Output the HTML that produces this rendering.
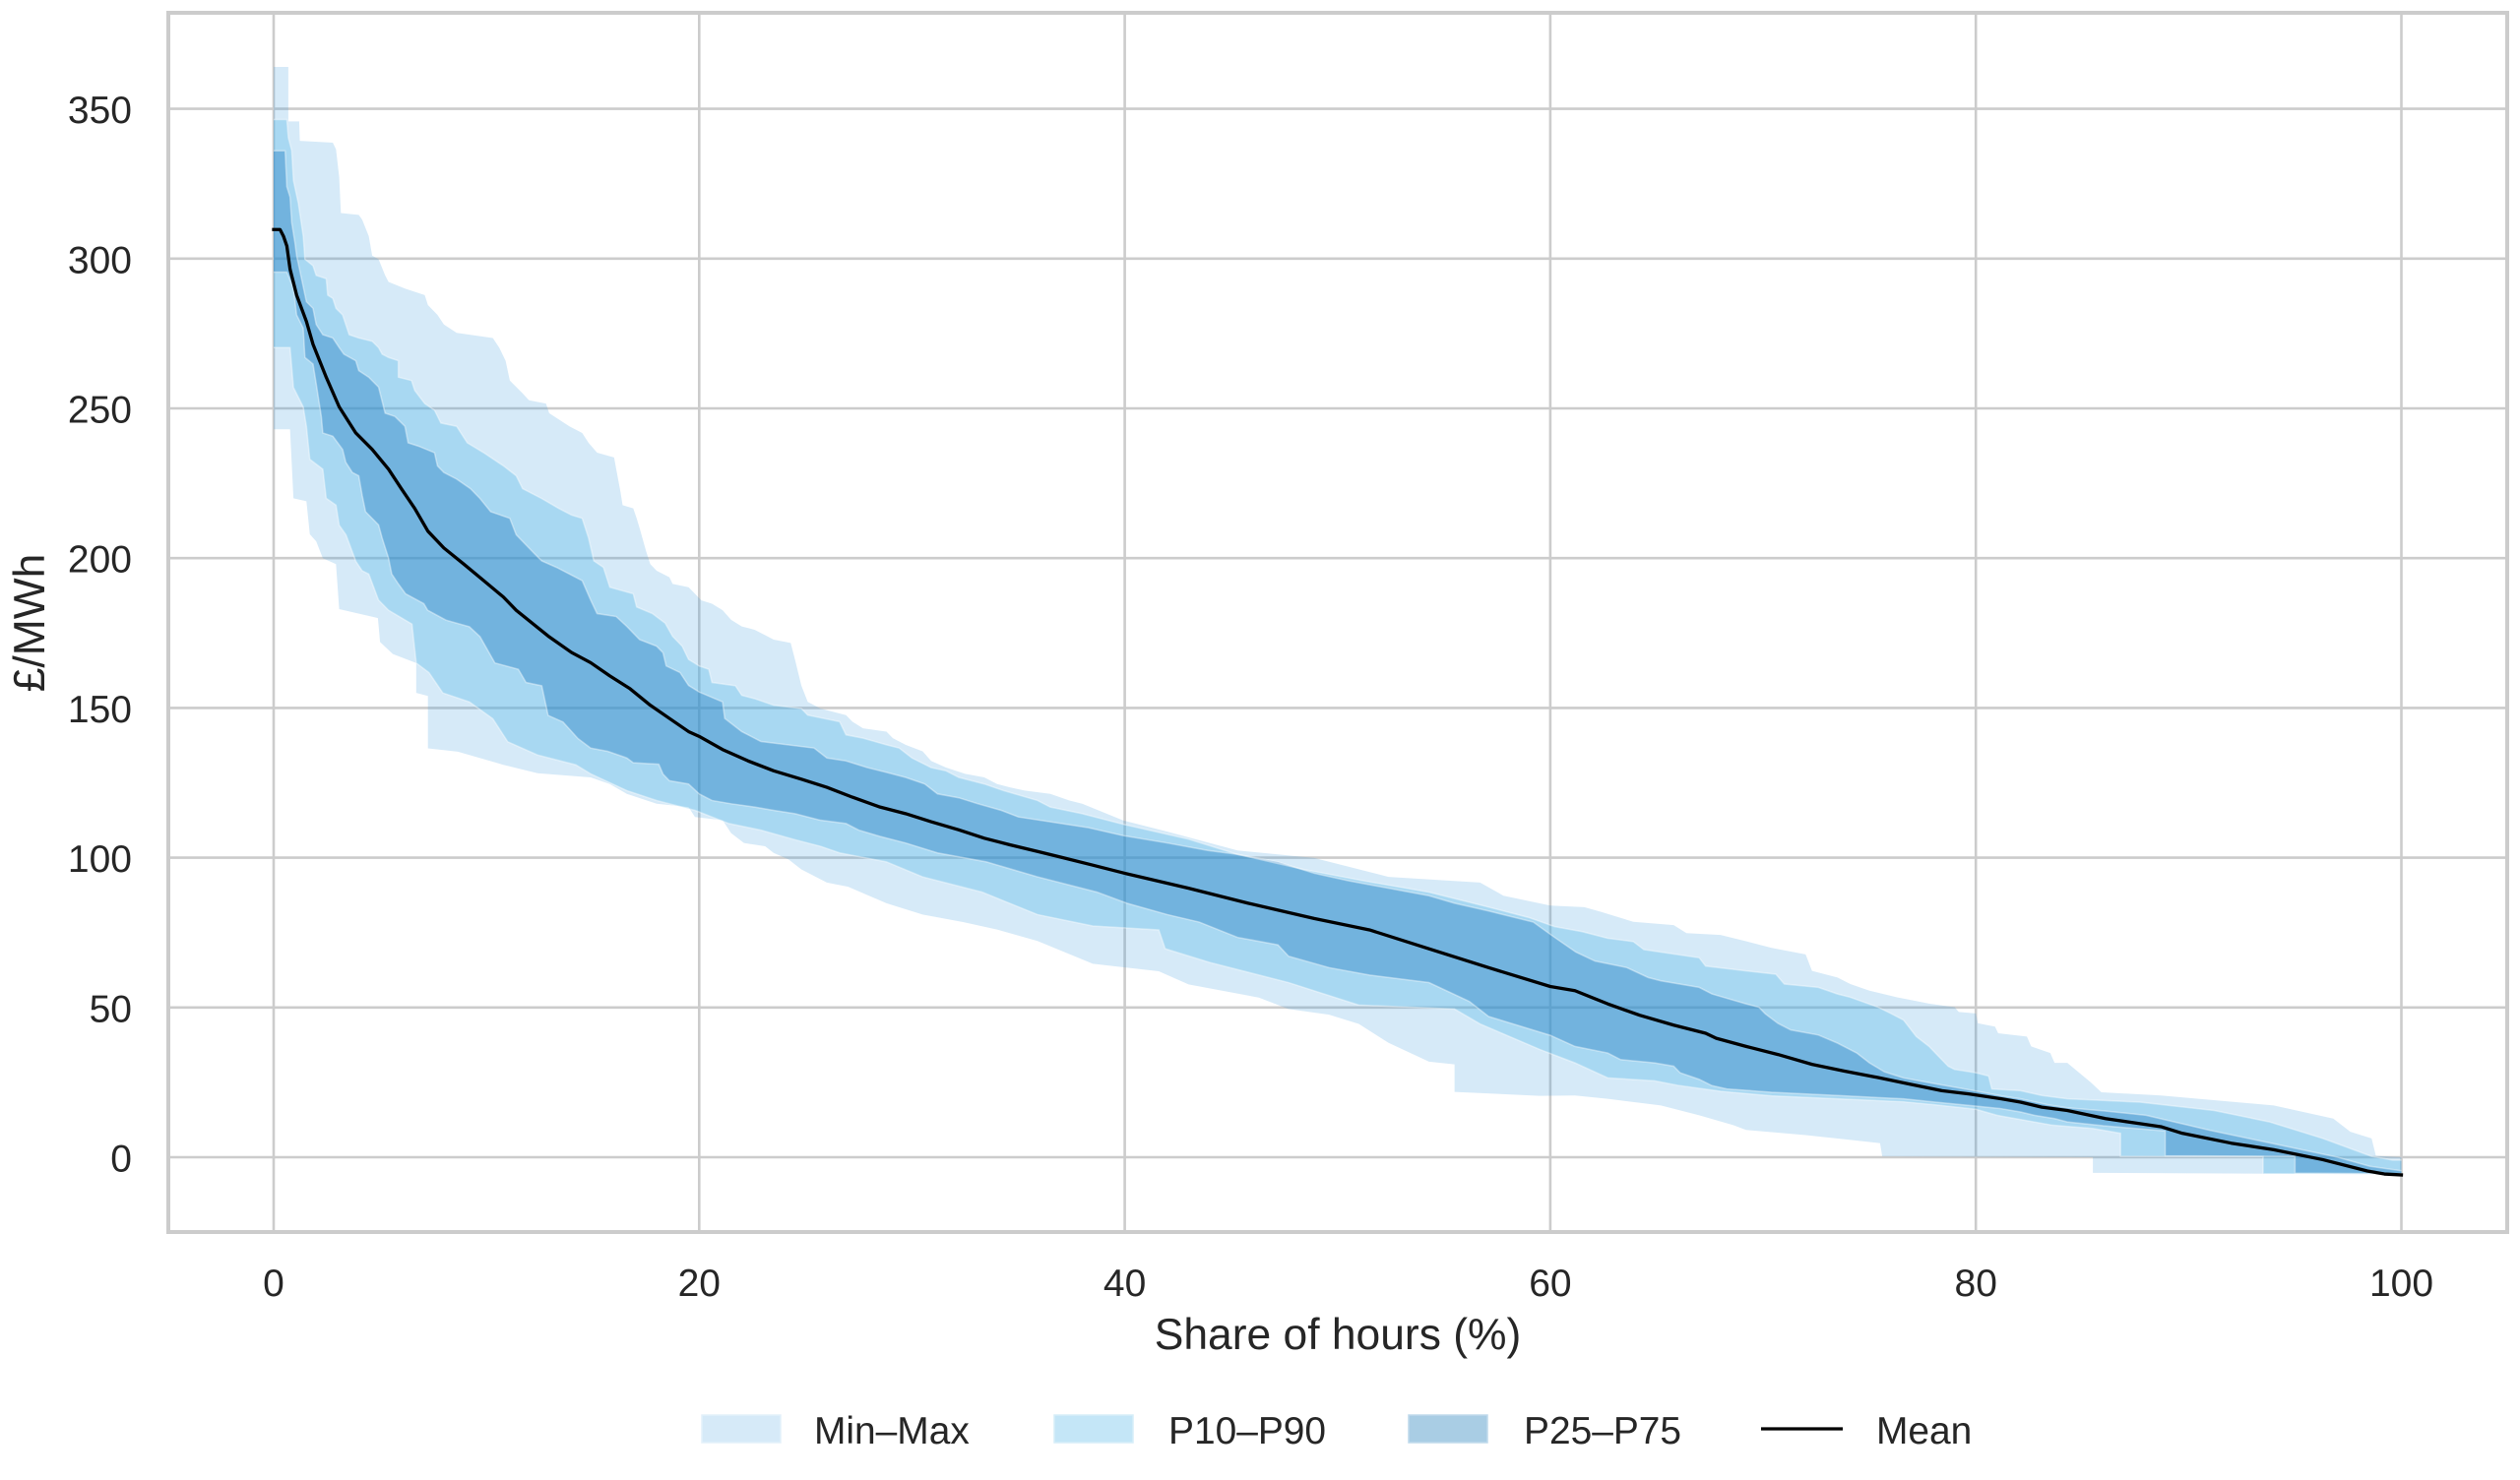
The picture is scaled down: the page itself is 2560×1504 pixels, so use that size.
<!DOCTYPE html>
<html>
<head>
<meta charset="utf-8">
<style>
html,body{margin:0;padding:0;background:#fff;}
svg{display:block;}
text{font-family:"Liberation Sans", Arial, sans-serif; fill:#262626;}
</style>
</head>
<body>
<svg xmlns="http://www.w3.org/2000/svg" width="2560" height="1504" viewBox="0 0 2560 1504">
<rect x="0" y="0" width="2560" height="1504" fill="#ffffff"/>

<!-- gridlines -->
<g stroke="#cccccc" stroke-width="2.6" fill="none">
  <line x1="278" y1="13" x2="278" y2="1252"/>
  <line x1="710.3" y1="13" x2="710.3" y2="1252"/>
  <line x1="1142.6" y1="13" x2="1142.6" y2="1252"/>
  <line x1="1574.9" y1="13" x2="1574.9" y2="1252"/>
  <line x1="2007.2" y1="13" x2="2007.2" y2="1252"/>
  <line x1="2439.5" y1="13" x2="2439.5" y2="1252"/>
  <line x1="171" y1="1176" x2="2547" y2="1176"/>
  <line x1="171" y1="1023.8" x2="2547" y2="1023.8"/>
  <line x1="171" y1="871.6" x2="2547" y2="871.6"/>
  <line x1="171" y1="719.4" x2="2547" y2="719.4"/>
  <line x1="171" y1="567.2" x2="2547" y2="567.2"/>
  <line x1="171" y1="415" x2="2547" y2="415"/>
  <line x1="171" y1="262.8" x2="2547" y2="262.8"/>
  <line x1="171" y1="110.6" x2="2547" y2="110.6"/>
</g>

<g transform="translate(278,1176) scale(21.615,-3.044)">
<defs>
  <clipPath id="cMM" clipPathUnits="userSpaceOnUse">
    <polygon points="0,243 0.77,243 0.93,220 1.54,219 1.7,208 2.0,205.6 2.31,200 2.93,198 3.08,183 4.9,180 5.0,172 5.6,168 6.7,165 6.7,155 7.25,154 7.25,136.5 8.66,135.4 10.8,131 12.4,128.2 14.9,126.8 15.8,124.6 16.6,121.3 18,118 19.5,116.9 19.8,113.6 21.1,112.5 21.5,108.2 22.1,104.9 23.1,103.8 23.5,101.6 24.2,99.4 24.8,96.1 26,91.7 27,90.3 28.8,84.8 30.5,81 32.4,78.5 34,76 35.9,72.2 38.5,64.6 41.6,62.1 43,57.7 46.3,53.3 47.7,49.5 49.6,47.6 51,44.5 52.4,38.2 54.3,31.9 55.5,31 55.5,21.8 59.5,20.5 61.16,20.6 62.7,19.5 65.2,17.3 67,14 68.6,10.7 69.2,9.1 72,7.4 74.1,5.8 75.5,4.7 75.6,0.3 85.5,0 85.5,-5.2 100,-5.7 100,400 0,400"/>
  </clipPath>
  <clipPath id="c1090" clipPathUnits="userSpaceOnUse">
    <polygon points="0,270.3 0.77,270.3 0.93,257 1.39,250.5 1.54,244 1.7,233 2.31,229.7 2.47,220 2.93,217.7 3.08,211 3.4,207.8 3.86,199 4.16,195.8 4.47,194.7 4.93,186 5.4,182.6 6.5,178 6.7,165 7.3,161.8 7.95,155 9.2,152 10.3,146.4 11,138.7 12.4,134.3 14.2,131 14.9,128 16.6,122.4 18,119.1 19.8,115.8 21.4,111.4 22.9,109.2 24.5,106 25.7,103.8 26.6,101.6 28.8,98.6 30.5,93.6 33.3,88.5 35.9,81 38.5,77.2 41.6,75.9 41.9,69.6 44,65 47.7,58.3 51,50.8 55.5,49.5 56.7,44.5 59.5,36 61.16,31.5 62.7,26.5 64.9,25.5 66,24 68,22 70.4,20.5 73.5,19.5 76.6,18.5 78.1,17.5 80,16 81,14 83.6,10.7 85.5,9.6 86.8,8 86.8,0.3 93.5,0.2 93.5,-5.5 100,-5.7 100,400 0,400"/>
  </clipPath>
  <clipPath id="c2575" clipPathUnits="userSpaceOnUse">
    <polygon points="0,295.5 0.62,295.5 0.93,290 1.08,281.2 1.39,276.8 1.47,267 1.85,264.8 2.0,258.2 2.24,247.3 2.31,241.8 2.78,240.7 3.24,236.3 3.39,232 3.7,228.6 4.0,227.5 4.16,221 4.32,215.5 4.93,211.1 5.1,206.7 5.4,200 5.55,194.7 5.86,191.4 6.2,188.1 7.06,184.8 7.24,182.6 8.1,179.3 9.2,177.1 9.7,173.8 10.4,165 11.5,162.9 11.86,158.5 12.6,157.4 12.9,147.5 13.6,145.3 14.3,139.8 14.9,136.6 15.7,135.5 16.6,133.3 16.9,131.7 18.1,131.2 18.3,127.9 18.6,125.7 19.5,124.6 20,121.3 20.6,119.1 21.5,118 22.6,116.9 23.5,115.8 24.5,114.7 25.7,112.5 26.9,111.4 27.5,109.2 28.5,107.1 29.7,104.9 31.2,101.6 33.5,98.6 35.9,93.6 38.7,88.5 40.1,84.8 42,81 43.5,78.5 45.3,73.4 47.2,70.9 47.7,67.1 49.6,63.3 51.5,60.8 54.3,58.3 56.2,52 57.1,47 60,40.7 61.16,37 62.7,34.8 63.3,32.6 64.9,31.5 65.8,30.4 66.1,28.2 67,26 67.6,23.9 68.3,22.8 70.4,21.7 73.5,20.6 76.6,19.5 78.1,18.4 79.7,17.3 81.2,16.2 82.1,15.1 82.75,14 83.7,12.9 84.3,11.8 86,10.5 88.9,8.8 88.9,0.5 95,0.3 95,-5.3 100,-5.5 100,400 0,400"/>
  </clipPath>
</defs>

<!-- Min-Max band -->
<polygon fill="#3498db" fill-opacity="0.2" clip-path="url(#cMM)" points="0,364 0.69,364 0.69,345.8 1.2,345.8 1.23,339.3 2.78,338.7 2.93,336.5 3.08,327.2 3.16,315.2 4.0,314.6 4.16,313 4.47,307.5 4.63,301 4.93,299.8 5.24,294.4 5.4,292.2 6.17,290 7.1,287.8 7.25,284.5 7.7,281.2 8.0,278 8.6,275.2 10.3,273.5 10.6,270.3 10.9,265.9 11.1,259.3 11.7,255 12.0,252.7 12.8,251.6 12.95,248.4 13.9,244 14.5,241.8 14.8,238.5 15.2,235.2 16.0,233.6 16.1,229.7 16.3,222.1 16.4,217.7 16.9,216.6 17.06,213.3 17.2,210 17.5,202.4 17.7,198 18.0,195.8 18.6,193.6 18.75,191.4 19.5,190.3 19.8,188.1 20.1,185.9 20.6,184.8 21.1,182.6 21.5,179.4 22,177.2 22.6,176.1 22.9,175 23.5,172.8 24.3,171.7 24.5,166.2 24.8,157.5 25.1,152 25.7,149.8 26.9,147.6 27.2,145.4 27.7,143.2 28.8,142.1 29.1,139.9 29.7,137.7 30.5,135.5 30.9,132.3 31.6,130.1 32.5,128 33.4,126.8 34,124.6 34.6,123.5 35.3,122.4 36.5,121.3 37.4,119.1 38,118 39.9,112.5 42,108.7 45.3,102.4 48.9,99.9 52.4,93.6 56.7,91.7 57.8,87.3 60,84 61.6,83.5 62.4,81.9 63.9,78.6 65.8,77.5 66.4,74.8 68,74.2 69.2,72.1 70.4,69.9 72,67.7 72.3,62.2 73.5,60 74.1,57.8 75,55.6 76.3,53.4 77.8,51.3 79,50.1 79.2,48.5 80,48 80.1,44.7 80.9,43.6 81.05,41.4 82.4,40.3 82.6,37 83.5,34.8 83.7,31.5 84.3,31.5 85.4,25 85.9,21.7 88.7,20.6 94,17.3 96.8,12.9 97.6,8.5 98.6,6.3 98.8,0.5 100,0 100,-30 0,-30"/>

<!-- P10-P90 band -->
<polygon fill="#53b7e7" fill-opacity="0.35" clip-path="url(#c1090)" points="0,346.4 0.62,346.4 0.69,340.4 0.85,336 0.93,326.1 1.16,318.5 1.39,307.5 1.47,299.8 1.85,297.6 2.0,294.4 2.47,293.3 2.54,287.8 2.78,286.7 2.93,283.4 3.24,281.2 3.55,274.6 4.0,273.5 4.63,272.4 4.93,270.3 5.1,268.1 5.4,267 5.86,265.9 5.86,260.4 6.48,259.3 6.63,256 7.1,251.6 7.56,249.4 7.86,245.1 8.6,244 9.1,238.5 9.87,235.2 10.8,230.8 11.4,227.5 11.7,223.2 12.6,219.9 13.4,216.6 14.0,214.4 14.5,213.3 14.8,206.7 15.05,199.1 15.5,196.9 15.8,190.3 16.9,188.1 17.06,183.7 17.8,181.5 18.4,178.3 18.75,173.9 19.2,170.6 19.5,166.2 20.0,164 20.45,162.9 20.6,158.5 21.7,157.4 22,154.2 22.6,153.1 23.5,150.9 24.8,149.8 25.1,147.6 26.6,145.4 26.9,141 27.7,139.9 28.8,137.7 29.4,136.6 30,133.3 30.9,130.1 31.6,129 32.2,126.8 33.4,124.6 34.3,122.4 35.9,119.1 36.5,116.9 38,114.7 39.9,111.2 43,106.2 45.3,101.1 48.4,96.1 51.2,92.3 54.3,88.5 57.1,83.5 59,80 60.2,77 61.5,75.3 62.7,73.1 63.9,72 64.4,69.3 67,66.6 67.3,63.8 69.2,62.2 70.6,61.1 71,57.8 72.6,56.7 73.5,54.5 74.1,53.4 75.4,50.1 76,48 76.6,45.8 77.2,40.3 77.8,37 78.1,34.8 78.7,30.4 79,29.3 80,28.2 80.6,27.1 80.75,22.8 82.1,22.2 83.1,20.6 84.3,19.5 87.7,18.4 91.2,15.6 93.8,11.8 96.3,6.3 98.6,0.3 99.6,-1 100,-1 100,-30 0,-30"/>

<!-- P25-P75 band -->
<polygon fill="#217cc0" fill-opacity="0.4" clip-path="url(#c2575)" points="0,336 0.54,336 0.62,324 0.77,320.6 0.85,312 1.0,305.3 1.08,301 1.31,293.3 1.54,285.6 1.85,283.4 2.0,278 2.31,274.6 2.78,273.5 3.08,270.3 3.3,268.1 3.86,265.9 4.0,262.6 4.47,260.4 4.93,257.1 5.24,248.4 5.7,247.3 6.17,244 6.32,238.5 6.8,237.4 7.56,235.2 7.7,230.8 8.0,228.6 8.6,226.4 9.25,223.2 9.7,219.9 10.2,215.5 11.1,213.3 11.4,207.8 12.3,201.2 12.6,199.1 13.3,196.9 13.9,194.7 14.5,192.5 14.9,186 15.2,181.5 16.1,180.5 16.6,177.2 17.2,172.8 18,170.6 18.3,168.4 18.45,164 19.1,161.8 19.5,157.5 20,155.3 21.1,152 21.2,146.5 22,142.1 22.9,138.8 25.4,136.6 26,133.3 26.9,132.3 27.9,130.1 28.8,128.5 29.7,126.8 30.6,124.6 31.2,121.3 32.2,120 33.1,118 34.2,115.8 35,113.6 36.5,112 38.3,110 39.9,107.4 42,104.9 43.9,102.4 45.3,101.1 47.2,98.6 48.9,94.8 50.5,92.3 52.4,89.8 54.3,87.3 55.5,84.8 57.1,82.2 59.2,78.5 60.2,73.4 61.2,68.5 62.1,65.5 63.6,63.3 64.6,60 65.2,58.9 67,56.7 67.6,54.5 69.2,51.2 69.8,50.1 70.1,47.9 70.7,44.7 71.3,42.5 72.6,40.8 73.5,38.1 74.4,34.8 75,31.5 75.7,28.5 76.6,26.5 78.1,24.5 79.7,22.5 81.2,20.5 82.1,19.5 83.4,17.5 84.3,16.5 86,15.5 88,14 89.5,11.5 91,9 93,6 95,3 97,0 98.5,-3 100,-4.5 100,-30 0,-30"/>

<!-- seams -->
<g fill="none" stroke="#ffffff" stroke-opacity="0.4" stroke-width="1.5">
<polyline vector-effect="non-scaling-stroke" points="0,346.4 0.62,346.4 0.69,340.4 0.85,336 0.93,326.1 1.16,318.5 1.39,307.5 1.47,299.8 1.85,297.6 2.0,294.4 2.47,293.3 2.54,287.8 2.78,286.7 2.93,283.4 3.24,281.2 3.55,274.6 4.0,273.5 4.63,272.4 4.93,270.3 5.1,268.1 5.4,267 5.86,265.9 5.86,260.4 6.48,259.3 6.63,256 7.1,251.6 7.56,249.4 7.86,245.1 8.6,244 9.1,238.5 9.87,235.2 10.8,230.8 11.4,227.5 11.7,223.2 12.6,219.9 13.4,216.6 14.0,214.4 14.5,213.3 14.8,206.7 15.05,199.1 15.5,196.9 15.8,190.3 16.9,188.1 17.06,183.7 17.8,181.5 18.4,178.3 18.75,173.9 19.2,170.6 19.5,166.2 20.0,164 20.45,162.9 20.6,158.5 21.7,157.4 22,154.2 22.6,153.1 23.5,150.9 24.8,149.8 25.1,147.6 26.6,145.4 26.9,141 27.7,139.9 28.8,137.7 29.4,136.6 30,133.3 30.9,130.1 31.6,129 32.2,126.8 33.4,124.6 34.3,122.4 35.9,119.1 36.5,116.9 38,114.7 39.9,111.2 43,106.2 45.3,101.1 48.4,96.1 51.2,92.3 54.3,88.5 57.1,83.5 59,80 60.2,77 61.5,75.3 62.7,73.1 63.9,72 64.4,69.3 67,66.6 67.3,63.8 69.2,62.2 70.6,61.1 71,57.8 72.6,56.7 73.5,54.5 74.1,53.4 75.4,50.1 76,48 76.6,45.8 77.2,40.3 77.8,37 78.1,34.8 78.7,30.4 79,29.3 80,28.2 80.6,27.1 80.75,22.8 82.1,22.2 83.1,20.6 84.3,19.5 87.7,18.4 91.2,15.6 93.8,11.8 96.3,6.3 98.6,0.3 99.6,-1 100,-1"/>
<polyline vector-effect="non-scaling-stroke" points="0,270.3 0.77,270.3 0.93,257 1.39,250.5 1.54,244 1.7,233 2.31,229.7 2.47,220 2.93,217.7 3.08,211 3.4,207.8 3.86,199 4.16,195.8 4.47,194.7 4.93,186 5.4,182.6 6.5,178 6.7,165 7.3,161.8 7.95,155 9.2,152 10.3,146.4 11,138.7 12.4,134.3 14.2,131 14.9,128 16.6,122.4 18,119.1 19.8,115.8 21.4,111.4 22.9,109.2 24.5,106 25.7,103.8 26.6,101.6 28.8,98.6 30.5,93.6 33.3,88.5 35.9,81 38.5,77.2 41.6,75.9 41.9,69.6 44,65 47.7,58.3 51,50.8 55.5,49.5 56.7,44.5 59.5,36 61.16,31.5 62.7,26.5 64.9,25.5 66,24 68,22 70.4,20.5 73.5,19.5 76.6,18.5 78.1,17.5 80,16 81,14 83.6,10.7 85.5,9.6 86.8,8 86.8,0.3 93.5,0.2 93.5,-5.5 100,-5.7"/>
<polyline vector-effect="non-scaling-stroke" points="0,336 0.54,336 0.62,324 0.77,320.6 0.85,312 1.0,305.3 1.08,301 1.31,293.3 1.54,285.6 1.85,283.4 2.0,278 2.31,274.6 2.78,273.5 3.08,270.3 3.3,268.1 3.86,265.9 4.0,262.6 4.47,260.4 4.93,257.1 5.24,248.4 5.7,247.3 6.17,244 6.32,238.5 6.8,237.4 7.56,235.2 7.7,230.8 8.0,228.6 8.6,226.4 9.25,223.2 9.7,219.9 10.2,215.5 11.1,213.3 11.4,207.8 12.3,201.2 12.6,199.1 13.3,196.9 13.9,194.7 14.5,192.5 14.9,186 15.2,181.5 16.1,180.5 16.6,177.2 17.2,172.8 18,170.6 18.3,168.4 18.45,164 19.1,161.8 19.5,157.5 20,155.3 21.1,152 21.2,146.5 22,142.1 22.9,138.8 25.4,136.6 26,133.3 26.9,132.3 27.9,130.1 28.8,128.5 29.7,126.8 30.6,124.6 31.2,121.3 32.2,120 33.1,118 34.2,115.8 35,113.6 36.5,112 38.3,110 39.9,107.4 42,104.9 43.9,102.4 45.3,101.1 47.2,98.6 48.9,94.8 50.5,92.3 52.4,89.8 54.3,87.3 55.5,84.8 57.1,82.2 59.2,78.5 60.2,73.4 61.2,68.5 62.1,65.5 63.6,63.3 64.6,60 65.2,58.9 67,56.7 67.6,54.5 69.2,51.2 69.8,50.1 70.1,47.9 70.7,44.7 71.3,42.5 72.6,40.8 73.5,38.1 74.4,34.8 75,31.5 75.7,28.5 76.6,26.5 78.1,24.5 79.7,22.5 81.2,20.5 82.1,19.5 83.4,17.5 84.3,16.5 86,15.5 88,14 89.5,11.5 91,9 93,6 95,3 97,0 98.5,-3 100,-4.5"/>
<polyline vector-effect="non-scaling-stroke" points="0,295.5 0.62,295.5 0.93,290 1.08,281.2 1.39,276.8 1.47,267 1.85,264.8 2.0,258.2 2.24,247.3 2.31,241.8 2.78,240.7 3.24,236.3 3.39,232 3.7,228.6 4.0,227.5 4.16,221 4.32,215.5 4.93,211.1 5.1,206.7 5.4,200 5.55,194.7 5.86,191.4 6.2,188.1 7.06,184.8 7.24,182.6 8.1,179.3 9.2,177.1 9.7,173.8 10.4,165 11.5,162.9 11.86,158.5 12.6,157.4 12.9,147.5 13.6,145.3 14.3,139.8 14.9,136.6 15.7,135.5 16.6,133.3 16.9,131.7 18.1,131.2 18.3,127.9 18.6,125.7 19.5,124.6 20,121.3 20.6,119.1 21.5,118 22.6,116.9 23.5,115.8 24.5,114.7 25.7,112.5 26.9,111.4 27.5,109.2 28.5,107.1 29.7,104.9 31.2,101.6 33.5,98.6 35.9,93.6 38.7,88.5 40.1,84.8 42,81 43.5,78.5 45.3,73.4 47.2,70.9 47.7,67.1 49.6,63.3 51.5,60.8 54.3,58.3 56.2,52 57.1,47 60,40.7 61.16,37 62.7,34.8 63.3,32.6 64.9,31.5 65.8,30.4 66.1,28.2 67,26 67.6,23.9 68.3,22.8 70.4,21.7 73.5,20.6 76.6,19.5 78.1,18.4 79.7,17.3 81.2,16.2 82.1,15.1 82.75,14 83.7,12.9 84.3,11.8 86,10.5 88.9,8.8 88.9,0.5 95,0.3 95,-5.3 100,-5.5"/>
</g>

<!-- Mean -->
<polyline fill="none" stroke="#000000" stroke-width="3.3" stroke-linejoin="round" stroke-linecap="square" vector-effect="non-scaling-stroke" points="0,309.7 0.3,309.7 0.46,307.5 0.62,304.2 0.77,296.5 1.08,287.8 1.54,279 1.85,271.4 2.16,265.9 2.47,260.4 3.08,250.5 3.86,241.8 4.63,236.3 5.4,229.7 6.0,223.2 6.63,216.6 7.25,209 8.0,203.4 8.94,198 9.87,192.5 10.8,187 11.4,182.6 12.9,174 14.0,168.5 14.9,165.1 15.8,160.7 16.75,156.4 17.7,150.9 18.6,146.5 19.5,142.1 20,140.5 21.1,136.1 22.3,132.3 23.5,129 24.8,126.2 26,123.5 27.2,120.2 28.5,116.9 29.7,114.7 30.9,112 32.2,109.3 33.4,106.5 34.6,104.3 35.9,102.1 37.1,100 38.5,97.5 40,94.8 43,89.8 45.8,84.8 48.9,79.7 51.5,75.9 54.3,69.6 57.1,63.3 60,57 61.16,55.6 62.7,51.2 64.2,47.4 65.8,44.1 67.3,41.4 67.8,39.7 69.2,37 70.7,34.3 72.3,31 73.8,28.8 75.4,26.6 76.9,24.4 78.4,22.2 79.7,21.1 81.2,19.5 82.1,18.4 83.1,16.7 84.3,15.6 86.1,12.9 88.7,10.2 89.7,8 92,4.7 94,2.5 96.3,-0.8 98.4,-4.6 99.2,-5.6 100,-5.9"/>
</g>

<!-- spines -->
<rect x="171" y="13" width="2376" height="1239" fill="none" stroke="#cccccc" stroke-width="4"/>

<!-- y tick labels -->
<g font-size="39" text-anchor="end">
  <text x="134" y="1190.5">0</text>
  <text x="134" y="1038.3">50</text>
  <text x="134" y="886.1">100</text>
  <text x="134" y="733.9">150</text>
  <text x="134" y="581.7">200</text>
  <text x="134" y="429.5">250</text>
  <text x="134" y="277.3">300</text>
  <text x="134" y="125.1">350</text>
</g>

<!-- x tick labels -->
<g font-size="39" text-anchor="middle">
  <text x="278" y="1317">0</text>
  <text x="710.3" y="1317">20</text>
  <text x="1142.6" y="1317">40</text>
  <text x="1574.9" y="1317">60</text>
  <text x="2007.2" y="1317">80</text>
  <text x="2439.5" y="1317">100</text>
</g>

<!-- axis labels -->
<text x="1359" y="1371" font-size="44.4" text-anchor="middle">Share of hours (%)</text>
<text transform="translate(45,633) rotate(-90)" font-size="44.4" text-anchor="middle">£/MWh</text>

<!-- legend -->
<rect x="713" y="1438" width="80" height="28" fill="#d6eaf8" stroke="#e4f1fa" stroke-width="1.5"/>
<text x="827" y="1467" font-size="38.9">Min–Max</text>
<rect x="1071" y="1438" width="80" height="28" fill="#c4e6f7" stroke="#d6eef9" stroke-width="1.5"/>
<text x="1187" y="1467" font-size="38.9">P10–P90</text>
<rect x="1431" y="1438" width="80" height="28" fill="#a9cde4" stroke="#bfdaec" stroke-width="1.5"/>
<text x="1548" y="1467" font-size="38.9">P25–P75</text>
<line x1="1789" y1="1452" x2="1872" y2="1452" stroke="#000000" stroke-width="3.3"/>
<text x="1906" y="1467" font-size="38.9">Mean</text>
</svg>
</body>
</html>
